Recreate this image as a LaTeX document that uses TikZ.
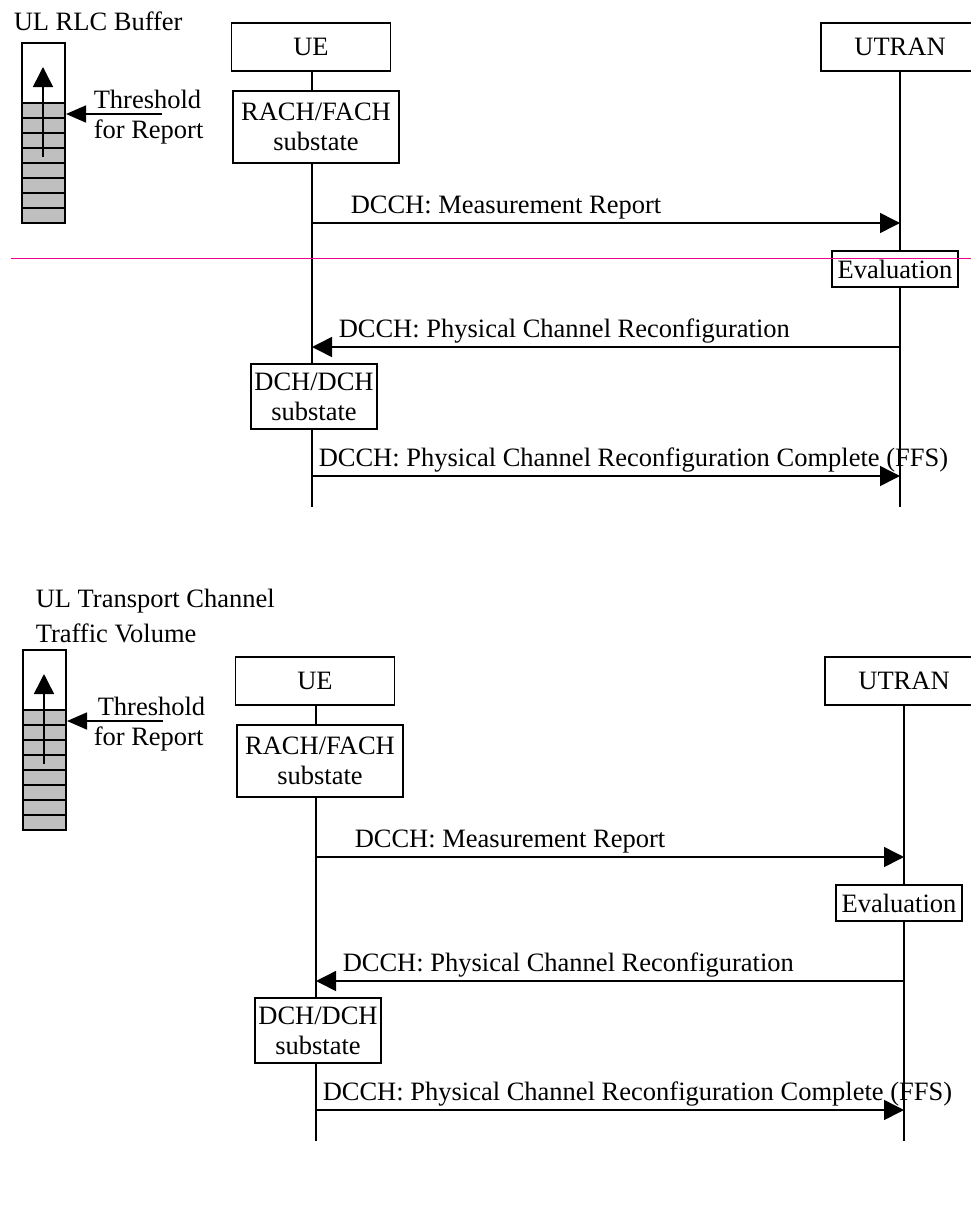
\documentclass[tikz,border=0pt]{standalone}
\usepackage{fontspec}
\setmainfont{Liberation Serif}
\usetikzlibrary{arrows.meta}
\begin{document}
\begin{tikzpicture}[x=1pt,y=-1pt, line width=1.5pt,
  every node/.style={font=\fontsize{26.5}{30}\selectfont, inner sep=0pt},
  box/.style={draw, line width=1.5pt, align=center, fill=white},
  msg/.style={-{Triangle[length=20pt,width=20pt]}},
  thr/.style={-{Triangle[length=20pt,width=17pt]}},
  lbl/.style={anchor=base west},
  cell/.style={line width=1.5pt}]
\useasboundingbox (0,0) rectangle (971,1218);

% ---------- buffers ----------
\foreach \s/\bx/\by in {a/0/0,b/1/607}{
  \begin{scope}[shift={(\bx,\by)}]
    \fill[gray!50] (22,103) rectangle (65,223);
    \foreach \yy in {103,118,...,223} \draw[cell] (22,\yy) -- (65,\yy);
    \draw[cell] (22,43) rectangle (65,223);
    \coordinate (up1\s) at (43,157);
    \coordinate (up2\s) at (43,67);
    \draw[msg] (up1\s) -- (up2\s);
    \coordinate (th1\s) at (162,114);
    \coordinate (th2\s) at (66,114);
    \draw[thr] (th1\s) -- (th2\s);
  \end{scope}
}
\node[lbl] (title1) at (13,30) {UL RLC Buffer};
\node[lbl] (thA) at (93,108) {Threshold};
\node[lbl] (frA) at (93,138) {for Report};
\node[lbl] (title2) at (35,607) {UL Transport Channel};
\node[lbl] (title3) at (35,642) {Traffic Volume};
\node[lbl] (thB) at (97,715) {Threshold};
\node[lbl] (frB) at (93,745) {for Report};

% ---------- sequence diagrams ----------
\foreach \s/\dx/\dy in {a/0/0,b/4/634}{
  \begin{scope}[shift={(\dx,\dy)}]
    \node[box, minimum width=159pt, minimum height=48pt] (ue\s) at (311,47) {UE};
    \node[box, minimum width=158pt, minimum height=48pt] (utran\s) at (900,47) {UTRAN};
    \node[box, minimum width=166pt, minimum height=72pt] (rach\s) at (316,127) {RACH/FACH\\substate};
    \node[box, minimum width=126pt, minimum height=36pt] (eval\s) at (895,269) {Evaluation};
    \node[box, minimum width=126pt, minimum height=65pt] (dch\s) at (314,396.5) {DCH/DCH\\substate};
    \coordinate (ueend\s) at (312,507);
    \coordinate (utend\s) at (900,507);
    % lifelines
    \draw (ue\s.south -| 312,0) -- (rach\s.north -| 312,0);
    \draw (rach\s.south -| 312,0) -- (dch\s.north -| 312,0);
    \draw (dch\s.south -| 312,0) -- (ueend\s);
    \draw (utran\s.south) -- (eval\s.north -| utran\s.south);
    \draw (eval\s.south -| utran\s.south) -- (utend\s);
    % messages
    \coordinate (m1a\s) at (312,223); \coordinate (m1b\s) at (900,223);
    \coordinate (m2a\s) at (900,347); \coordinate (m2b\s) at (312,347);
    \coordinate (m3a\s) at (312,476); \coordinate (m3b\s) at (900,476);
    \draw[msg] (m1a\s) -- (m1b\s);
    \draw[msg] (m2a\s) -- (m2b\s);
    \draw[msg] (m3a\s) -- (m3b\s);
    \node[lbl] (l1\s) at (350,213) {DCCH: Measurement Report};
    \node[lbl] (l2\s) at (338,337) {DCCH: Physical Channel Reconfiguration};
    \node[lbl] (l3\s) at (318,466) {DCCH: Physical Channel Reconfiguration Complete (FFS)};
  \end{scope}
}

% magenta separator
\coordinate (sepL) at (11,258);
\coordinate (sepR) at (971,258);
\draw[magenta, line width=1pt] (sepL) -- (sepR);
\end{tikzpicture}
\end{document}
